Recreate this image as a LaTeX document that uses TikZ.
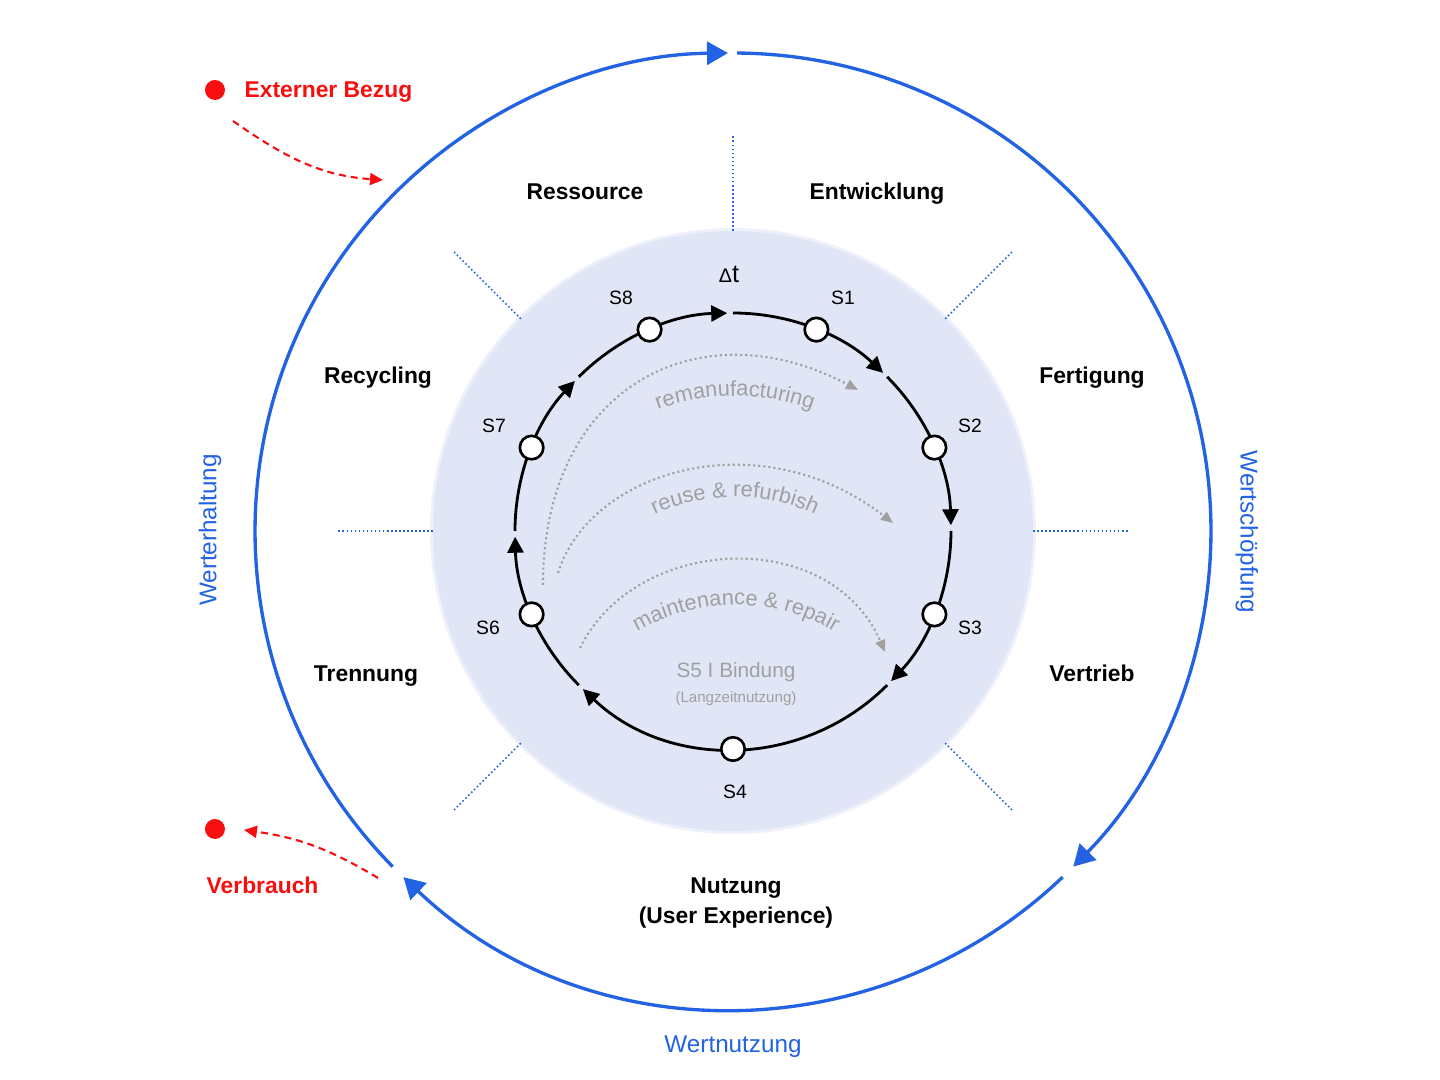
\documentclass[tikz,border=0pt]{standalone}
\usepackage{fontspec}
\setmainfont{Liberation Sans}
\usetikzlibrary{arrows.meta,decorations.text,positioning}

\definecolor{valueblue}{HTML}{2262E3}
\definecolor{flowred}{HTML}{F70F0F}
\definecolor{diskfill}{HTML}{E1E6F7}
\definecolor{loopgray}{HTML}{A0A0A0}

\newcommand{\loopfont}{\fontsize{6.2}{7}\selectfont}

\tikzset{
	outerarc/.style={valueblue, line width=0.95pt, -{Triangle[length=0.21cm,width=0.23cm]}},
	innerarc/.style={black, line width=0.8pt, -{Triangle[length=0.16cm,width=0.16cm]}},
	station/.style={circle, draw=black, fill=white, line width=0.75pt, inner sep=0pt, minimum size=0.235cm},
	stationlabel/.style={anchor=base, font=\fontsize{5.5}{6}\selectfont},
	sectorlabel/.style={anchor=base, font=\bfseries\fontsize{6.5}{7.5}\selectfont},
	valuelabel/.style={valueblue, font=\fontsize{6.9}{8}\selectfont},
	redlabel/.style={anchor=base west, inner sep=0pt, flowred, font=\bfseries\fontsize{6.5}{7.5}\selectfont},
	reddot/.style={circle, fill=flowred, inner sep=0pt, minimum size=0.2cm},
	sepline/.style={valueblue, line width=0.45pt, dash pattern=on 0.45pt off 0.7pt},
	loopline/.style={loopgray, line width=0.6pt, dash pattern=on 0.6pt off 0.85pt, -{Triangle[length=0.12cm,width=0.1cm]}},
	redline/.style={flowred, line width=0.6pt, dash pattern=on 2pt off 1.4pt, -{Triangle[length=0.13cm,width=0.12cm]}},
}

\begin{document}
\begin{tikzpicture}
	\useasboundingbox (-7.33,-5.49) rectangle (7.07,5.31);

	% disk
	\fill[diskfill!55] (0,0) circle (3.03);
	\fill[diskfill] (0,0) circle (3.0);

	\foreach \a in {0,45,90,135,180,225,315}
		\draw[sepline] (\a:3.0) -- (\a:3.96);

	% outer circle
	\draw[outerarc] (89.5:4.78) arc[start angle=89.5, end angle=-44.6, radius=4.78];
	\draw[outerarc] (-46.4:4.78) arc[start angle=-46.4, end angle=-133.6, radius=4.78];
	\draw[outerarc] (-135.4:4.78) arc[start angle=-135.4, end angle=-269.4, radius=4.78];

	% inner loop
	\foreach \a/\b [evaluate=\b as \e using \b+1.5] in {90/45,45/0,0/-45,-45/-135,-135/-180,-180/-225,-225/-270}
		\draw[innerarc] (\a:2.18) arc[start angle=\a, end angle=\e, radius=2.18];

	\foreach \n/\a in {1/67.5,2/22.5,3/-22.5,4/-90,6/-157.5,7/157.5,8/112.5}
		\node[station] (s\n) at (\a:2.18) {};

	\node[stationlabel] (l1) at (1.10,2.26) {S1};
	\node[stationlabel] (l2) at (2.37,0.98) {S2};
	\node[stationlabel] (l3) at (2.37,-1.04) {S3};
	\node[stationlabel] (l4) at (0.02,-2.68) {S4};
	\node[stationlabel] (l6) at (-2.45,-1.04) {S6};
	\node[stationlabel] (l7) at (-2.39,0.98) {S7};
	\node[stationlabel] (l8) at (-1.12,2.26) {S8};
	\node[anchor=base, font=\fontsize{7.2}{8}\selectfont] (dt) at (-0.04,2.48) {{\fontsize{5.6}{6}\selectfont Δ}t};

	% loops
	\coordinate (remA) at (-1.90,-0.54);
	\coordinate (remB) at (1.25,1.41);
	\coordinate (reuA) at (-1.75,-0.42);
	\coordinate (reuB) at (1.60,0.08);
	\coordinate (mntA) at (-1.53,-1.17);
	\coordinate (mntB) at (1.52,-1.21);
	\draw[loopline] (remA) .. controls (-1.90,1.45) and (-0.33,2.25) .. (remB);
	\draw[loopline] (reuA) .. controls (-1.43,0.61) and (0.27,1.11) .. (reuB);
	\draw[loopline] (mntA) .. controls (-0.98,-0.04) and (0.97,0.06) .. (mntB);

	\path[decorate, decoration={text along path, text={|\loopfont|remanufacturing}, text align=center, text color=loopgray}]
		(0.02,-0.85) ++(125:2.2) arc[start angle=125, end angle=55, radius=2.2];
	\path[decorate, decoration={text along path, text={|\loopfont|reuse {\&} refurbish}, text align=center, text color=loopgray}]
		(0.02,-1.56) ++(135:1.9) arc[start angle=135, end angle=45, radius=1.9];
	\path[decorate, decoration={text along path, text={|\loopfont|maintenance {\&} repair}, text align=center, text color=loopgray}]
		(0.03,-2.68) ++(140:1.94) arc[start angle=140, end angle=40, radius=1.94];

	\node[anchor=base, loopgray, font=\fontsize{5.9}{7}\selectfont] (bind) at (0.03,-1.47) {S5 I Bindung};
	\node[anchor=base, loopgray, font=\fontsize{4.3}{5}\selectfont] (lang) at (0.03,-1.72) {(Langzeitnutzung)};

	% sectors
	\node[sectorlabel] (res) at (-1.48,3.31) {Ressource};
	\node[sectorlabel] (ent) at (1.44,3.31) {Entwicklung};
	\node[sectorlabel] (fer) at (3.59,1.47) {Fertigung};
	\node[sectorlabel] (ver) at (3.59,-1.51) {Vertrieb};
	\node[sectorlabel] (tre) at (-3.67,-1.51) {Trennung};
	\node[sectorlabel] (rec) at (-3.55,1.47) {Recycling};
	\node[sectorlabel] (nut) at (0.03,-3.63) {Nutzung};
	\node[sectorlabel] (ux) at (0.03,-3.93) {(User Experience)};

	\node[valuelabel, rotate=-90] (schoepf) at (5.14,-0.01) {Wertschöpfung};
	\node[valuelabel, rotate=90] (erhalt) at (-5.23,0.01) {Werterhaltung};
	\node[valuelabel] (wnutz) at (0,-5.16) {Wertnutzung};

	% external flows
	\node[reddot] (extdot) at (-5.18,4.41) {};
	\node[redlabel] (ext) at (-4.89,4.33) {Externer Bezug};
	\coordinate (extA) at (-5.00,4.10);
	\coordinate (extB) at (-3.50,3.51);
	\draw[redline] (extA) to[out=-35, in=176] (extB);

	\node[reddot] (verdot) at (-5.18,-2.98) {};
	\node[redlabel] (verb) at (-5.27,-3.63) {Verbrauch};
	\coordinate (verA) at (-3.55,-3.47);
	\coordinate (verB) at (-4.89,-2.99);
	\draw[redline] (verA) to[out=149, in=-8] (verB);
\end{tikzpicture}
\end{document}
